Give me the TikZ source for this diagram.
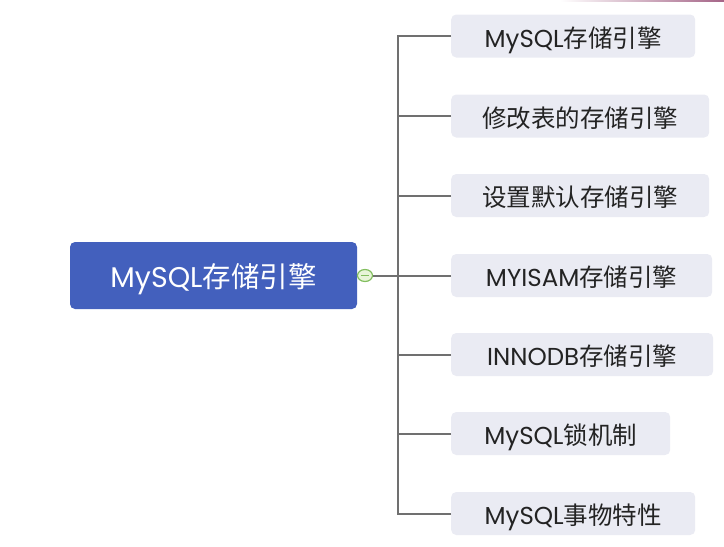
\documentclass[tikz,border=0pt]{standalone}
\usepackage{fontspec}
\usetikzlibrary{shapes.geometric}
\setmainfont{Noto Sans CJK SC}
\newfontfamily\lat{Poppins}
\definecolor{rootblue}{RGB}{67,96,189}
\definecolor{childbg}{RGB}{234,235,243}
\definecolor{linegray}{RGB}{112,112,112}
\definecolor{txtdark}{RGB}{35,35,35}
\definecolor{circgreen}{RGB}{130,190,95}
\definecolor{circfill}{RGB}{232,245,216}
\definecolor{barpurple}{RGB}{165,100,135}
\begin{document}
\begin{tikzpicture}[x=1pt,y=-1pt,
  rootbox/.style={fill=rootblue, rounded corners=5pt, inner sep=0pt,
    minimum width=287pt, minimum height=67pt, text=white,
    text height=23pt, text depth=0pt,
    font=\fontsize{28.5}{32}\selectfont},
  childbox/.style={fill=childbg, rounded corners=5pt, inner sep=0pt,
    minimum height=43pt, anchor=west, text=txtdark,
    text height=22.5pt, text depth=0pt,
    font=\fontsize{24.5}{28}\selectfont},
  conn/.style={draw=linegray, line width=2pt}]
\useasboundingbox (0,0) rectangle (724,547);
\shade[left color=white, right color=barpurple] (560,0) rectangle (724,1.6);
\node[rootbox] (root) at (213.5,275.5) {{\lat MySQL}存储引擎};
\node[childbox, minimum width=244pt] (c1) at (451,36) {{\lat MySQL}存储引擎};
\node[childbox, minimum width=258pt] (c2) at (451,116) {修改表的存储引擎};
\node[childbox, minimum width=258pt] (c3) at (451,195.5) {设置默认存储引擎};
\node[childbox, minimum width=261pt] (c4) at (451,275.5) {{\lat MYISAM}存储引擎};
\node[childbox, minimum width=262pt] (c5) at (451,354.5) {{\lat INNODB}存储引擎};
\node[childbox, minimum width=219pt] (c6) at (451,433.5) {{\lat MySQL}锁机制};
\node[childbox, minimum width=244pt] (c7) at (451,513.5) {{\lat MySQL}事物特性};
\coordinate (trunk) at (397.5,275.5);
\node[ellipse, draw=circgreen, fill=circfill, line width=1.2pt, inner sep=0pt,
  minimum width=15pt, minimum height=12pt] (circ) at (365,275.5) {};
\draw[conn] (circ.east) -- (trunk);
\foreach \c in {c1,c2,c3,c4,c5,c6,c7}
  \draw[conn] (\c.west) -| (trunk);
\draw[circgreen, line width=1.5pt] ([xshift=-4pt]circ.center) -- ([xshift=4pt]circ.center);
\end{tikzpicture}
\end{document}
